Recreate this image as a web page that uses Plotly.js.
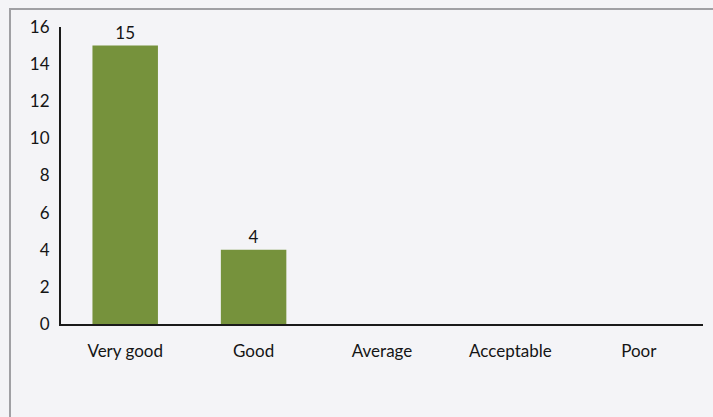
<!DOCTYPE html>
<html>
<head>
<meta charset="utf-8">
<script src="https://cdn.plot.ly/plotly-3.0.1.min.js"></script>
<style>
html,body{margin:0;padding:0;background:#f4f4f7;}
#wrap{position:relative;width:713px;height:417px;}
#chart{width:713px;height:417px;}
#frame{position:absolute;left:9px;top:8px;width:704px;height:409px;border-left:2px solid #a0a0a4;border-top:2px solid #a0a0a4;box-sizing:border-box;pointer-events:none;}
</style>
</head>
<body>
<div id="wrap"><div id="chart"></div><div id="frame"></div></div>
<script>
const categories = ["Very good", "Good", "Average", "Acceptable", "Poor"];
const counts = [15, 4, 0, 0, 0];
const labels = ["15", "4", "", "", ""];
const yTicks = [0, 2, 4, 6, 8, 10, 12, 14, 16];

const font = {family: "Lato, 'Open Sans', sans-serif", size: 17, color: "#151515"};

Plotly.newPlot("chart", [{
  type: "bar",
  x: categories,
  y: counts,
  text: labels,
  textposition: "outside",
  cliponaxis: false,
  textfont: font,
  marker: {color: "#76923c"},
  width: 0.51,
  hoverinfo: "none"
}], {
  width: 713, height: 417,
  margin: {l: 61, r: 10, t: 27, b: 93},
  paper_bgcolor: "#f4f4f7",
  plot_bgcolor: "rgba(0,0,0,0)",
  showlegend: false,
  font: font,
  xaxis: {
    type: "category",
    showline: true, linecolor: "#1a1a1a", linewidth: 2,
    showgrid: false, zeroline: false, ticks: "",
    ticklabelstandoff: 11,
    tickfont: font
  },
  yaxis: {
    range: [0, 16],
    tickvals: yTicks,
    showline: true, linecolor: "#1a1a1a", linewidth: 2,
    showgrid: false, zeroline: false, ticks: "",
    ticklabelstandoff: 6,
    tickfont: font
  }
}, {staticPlot: true});
</script>
</body>
</html>
